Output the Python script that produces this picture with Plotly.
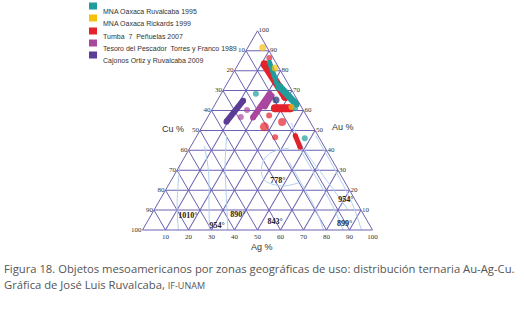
import plotly.graph_objects as go

# ---------------- data (compositions in %: Au, Cu, Ag) ----------------
legend_names = [
    "MNA Oaxaca Ruvalcaba 1995",
    "MNA Oaxaca Rickards 1999",
    "Tumba  7  Peñuelas 2007",
    "Tesoro del Pescador  Torres y Franco 1989",
    "Cajonos Ortiz y Ruvalcaba 2009",
]
colors = ["#1f9c9c", "#f4c20d", "#e4222b", "#a9479f", "#5b3c96"]
navy = "#1c2d6b"

# round objects (Au, Cu, Ag, marker size px)
teal_au = [68.4, 46.1, 61.1]
teal_cu = [16.5, 6.4, 3.1]
teal_ag = [15.1, 47.5, 35.8]
teal_sz = [6, 6, 6]

yellow_au = [91.6, 81.3, 61.7]
yellow_cu = [1.9, 1.7, 4.4]
yellow_ag = [6.5, 17.0, 33.9]
yellow_sz = [7, 7, 6]

red_au = [86.3, 57.5, 51.8, 54.2, 46.6]
red_cu = [1.7, 16.2, 21.1, 12.2, 19.0]
red_ag = [12.0, 26.3, 27.1, 33.6, 34.4]
red_sz = [6, 6, 9, 8, 6]

magenta_au = [60.3, 56.7]
magenta_cu = [24.4, 28.9]
magenta_ag = [15.3, 14.4]
magenta_sz = [6, 6]

navy_au = [65.3]
navy_cu = [9.3]
navy_ag = [25.4]
navy_sz = [7]

# elongated composition ranges: (Au1, Cu1, Ag1, Au2, Cu2, Ag2, thickness px)
teal_ranges = [(84.2, 2.7, 13.1, 71.1, 5.3, 23.6, 5),
               (72.1, 4.4, 23.5, 63.2, 1.6, 35.2, 7)]
red_ranges = [(83.2, 5.3, 11.5, 66.8, 4.5, 28.7, 8),
              (61.1, 11.9, 27.0, 61.1, 5.2, 33.7, 8),
              (47.4, 9.9, 42.7, 41.6, 10.7, 47.7, 5)]
magenta_ranges = [(68.4, 10.5, 21.1, 56.5, 23.7, 19.8, 6),
                  (67.5, 9.9, 22.6, 61.7, 15.9, 22.4, 5)]
purple_ranges = [(64.9, 23.8, 11.3, 54.4, 36.3, 9.3, 6)]

# liquidus isotherm curves (Au, Cu, Ag)
iso_curves = [
    [(32.6, 67.4, 0.0), (21.1, 74.1, 4.8), (10.5, 79.7, 9.8), (0.0, 84.4, 15.6)],
    [(42.1, 52.0, 5.9), (28.9, 56.8, 14.3), (13.2, 64.5, 22.3), (0.0, 70.9, 29.1)],
    [(47.4, 39.7, 12.9), (31.6, 48.3, 20.1), (15.8, 55.6, 28.6), (0.0, 62.9, 37.1)],
    [(41.1, 15.8, 43.1), (38.4, 25.6, 36.0), (32.6, 31.8, 35.6), (25.3, 34.5, 40.2),
     (22.1, 28.5, 49.4), (23.7, 20.2, 56.1)],
    [(42.1, 11.1, 46.8), (26.3, 11.3, 62.4), (11.6, 11.3, 77.1), (0.0, 12.8, 87.2)],
    [(47.4, 1.0, 51.6), (30.5, 1.2, 68.3), (13.2, 2.2, 84.6), (0.0, 4.8, 95.2)],
    [(34.2, 19.2, 46.6), (21.1, 19.3, 59.6), (9.5, 19.6, 70.9), (0.0, 21.3, 78.7)],
    [(53.7, 8.4, 37.9), (41.1, 9.5, 49.4), (27.4, 7.8, 64.8), (10.5, 5.6, 83.9)],
]

# temperature labels
temp_text = ["1010°", "954°", "890°", "843°", "778°", "954°", "899°"]
temp_au = [7.0, 2.1, 7.5, 3.8, 24.6, 14.9, 3.2]
temp_cu = [76.8, 66.5, 54.8, 40.5, 28.9, 4.1, 10.5]
temp_ag = [16.2, 31.4, 37.7, 55.7, 46.5, 81.0, 86.3]

# tick values (per axis) and the printed labels
tick_vals = [90, 80, 70, 60, 50, 40, 30, 20, 10, 0]
tick_text = ["10", "20", "30", "40", "50", "60", "70", "80", "90", "100"]

# ---------------- figure ----------------
GRID = "#6a62b2"
ISO = "#b0cfec"
fig = go.Figure()

for curve in iso_curves:
    fig.add_trace(go.Scatterternary(
        a=[p[0] for p in curve], b=[p[1] for p in curve], c=[p[2] for p in curve],
        mode="lines", line=dict(color=ISO, width=1, shape="spline"),
        hoverinfo="skip", showlegend=False))


def add_ranges(ranges, color):
    for r in ranges:
        fig.add_trace(go.Scatterternary(
            a=[r[0], r[3]], b=[r[1], r[4]], c=[r[2], r[5]],
            mode="lines+markers",
            line=dict(color=color, width=r[6]),
            marker=dict(color=color, size=r[6], line=dict(width=0)),
            showlegend=False))


def add_points(a, b, c, s, color):
    fig.add_trace(go.Scatterternary(
        a=a, b=b, c=c, mode="markers",
        marker=dict(color=color, size=s, line=dict(width=0)),
        showlegend=False))


add_ranges(red_ranges, colors[2])
add_points(red_au, red_cu, red_ag, red_sz, colors[2])
add_ranges(teal_ranges, colors[0])
add_points(teal_au, teal_cu, teal_ag, teal_sz, colors[0])
add_ranges(magenta_ranges, colors[3])
add_points(magenta_au, magenta_cu, magenta_ag, magenta_sz, colors[3])
add_ranges(purple_ranges, colors[4])
add_points(navy_au, navy_cu, navy_ag, navy_sz, navy)
add_points(yellow_au, yellow_cu, yellow_ag, yellow_sz, colors[1])

fig.add_trace(go.Scatterternary(
    a=temp_au, b=temp_cu, c=temp_ag, mode="text",
    text=["<b>" + t + "</b>" for t in temp_text],
    textfont=dict(family="Liberation Serif", size=8, color="#222"),
    hoverinfo="skip", showlegend=False))

axis_common = dict(
    tickmode="array", tickvals=tick_vals, ticktext=tick_text,
    showgrid=True, gridcolor=GRID, gridwidth=1,
    showline=True, linecolor=GRID, linewidth=1,
    ticks="", min=0, title=dict(text=""),
    tickfont=dict(family="Liberation Serif", size=7, color="#333"),
)

cx, half_w = 257.5, 115.0
fig.update_layout(
    width=524, height=317,
    margin=dict(l=0, r=0, t=0, b=0),
    paper_bgcolor="white",
    showlegend=False,
    ternary=dict(
        sum=100,
        domain=dict(x=[(cx - half_w) / 524, (cx + half_w) / 524],
                    y=[1 - 230 / 317, 1 - (230 - 2 * half_w * 0.8660254) / 317]),
        bgcolor="white",
        aaxis=axis_common, baxis=axis_common, caxis=axis_common,
    ),
)

# axis titles
for txt, x, y in [("Cu %", 160, 129), ("Au %", 343, 127), ("Ag %", 262, 254)]:
    fig.add_annotation(text=txt, x=x / 524, y=1 - y / 317, xref="paper", yref="paper",
                       showarrow=False, font=dict(family="Liberation Sans", size=9, color="#333"))

# legend
leg_y = [6, 18, 31, 43, 55]
for name, col, y in zip(legend_names, colors, leg_y):
    fig.add_shape(type="rect", xref="paper", yref="paper",
                  x0=89 / 524, x1=97 / 524, y0=1 - (y + 3.5) / 317, y1=1 - (y - 3.5) / 317,
                  fillcolor=col, line=dict(width=0))
    fig.add_annotation(text=name, x=101 / 524, y=1 - y / 317, xref="paper", yref="paper",
                       xanchor="left", showarrow=False,
                       font=dict(family="Liberation Sans", size=7, color="#333"))

# caption
fig.add_annotation(
    text="Figura 18. Objetos mesoamericanos por zonas geográficas de uso: distribución ternaria Au-Ag-Cu.",
    x=2 / 524, y=1 - 278 / 317, xref="paper", yref="paper", xanchor="left", showarrow=False,
    font=dict(family="Open Sans", size=11.25, color="#555"))
fig.add_annotation(
    text="Gráfica de José Luis Ruvalcaba, <span style='font-size:9px'>IF-UNAM</span>",
    x=2 / 524, y=1 - 294 / 317, xref="paper", yref="paper", xanchor="left", showarrow=False,
    font=dict(family="Open Sans", size=11.25, color="#555"))

fig.write_html("out.html", config={"displayModeBar": False},
               post_script="document.body.style.margin='0px';")
